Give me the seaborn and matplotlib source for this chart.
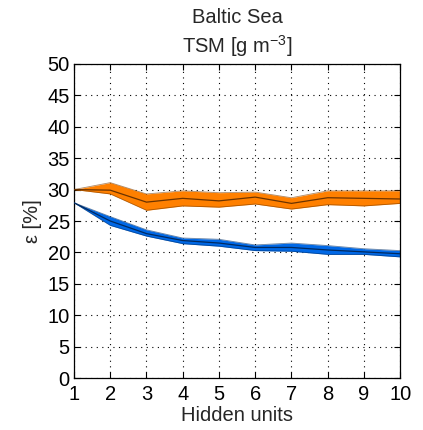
import numpy as np
import pandas as pd
import seaborn as sns
import matplotlib
matplotlib.use("Agg")
import matplotlib.pyplot as plt

# Error (%) against number of hidden units: mean and band limits
hidden_units = [1, 2, 3, 4, 5, 6, 7, 8, 9, 10]

orange_mean = [30.0, 29.9, 28.0, 28.6, 28.2, 28.8, 27.8, 28.7, 28.6, 28.5]
orange_low = [30.0, 29.3, 26.7, 27.4, 27.2, 27.7, 26.9, 27.6, 27.4, 27.8]
orange_high = [30.0, 31.1, 29.3, 29.8, 29.5, 29.6, 28.7, 29.8, 29.8, 29.8]

blue_mean = [27.9, 25.0, 23.0, 21.9, 21.5, 20.8, 20.8, 20.4, 20.1, 19.8]
blue_low = [27.9, 24.3, 22.6, 21.4, 21.0, 20.3, 20.2, 19.7, 19.7, 19.3]
blue_high = [27.9, 25.7, 23.6, 22.3, 22.1, 21.2, 21.5, 21.1, 20.6, 20.3]

y_ticks = [0, 5, 10, 15, 20, 25, 30, 35, 40, 45, 50]

sns.set_style("white")
plt.rcParams["font.family"] = ["Liberation Sans", "DejaVu Sans"]
plt.rcParams["mathtext.fontset"] = "custom"
plt.rcParams["mathtext.rm"] = "Liberation Sans"
plt.rcParams["mathtext.it"] = "Liberation Sans"

df = pd.DataFrame({
    "units": hidden_units * 2,
    "err": orange_mean + blue_mean,
    "group": ["a"] * 10 + ["b"] * 10,
})

fig = plt.figure(figsize=(4.23, 4.30), dpi=100)
ax = fig.add_axes([0.175, 0.12, 0.771, 0.732])

series = [
    (orange_low, orange_high, "#FF8000", "#7a3c00"),
    (blue_low, blue_high, "#0068E6", "#00306a"),
]
for low, high, face, edge in series:
    ax.fill_between(hidden_units, low, high, color=face, zorder=2, lw=0)
    ax.plot(hidden_units, low, color=edge, lw=0.6, alpha=0.6, zorder=3)
    ax.plot(hidden_units, high, color=edge, lw=0.6, alpha=0.6, zorder=3)

sns.lineplot(data=df, x="units", y="err", hue="group",
             palette={"a": "#6b3300", "b": "#002a60"}, lw=0.9,
             legend=False, ax=ax, zorder=4)

fs = 14.5
ax.set_xlim(1, 10)
ax.set_ylim(0, 50)
ax.set_xticks(hidden_units)
ax.set_yticks(y_ticks)
ax.grid(True, color="black", linestyle=(0, (1, 4)), linewidth=0.8)
ax.set_axisbelow(True)
for s in ax.spines.values():
    s.set_color("black")
    s.set_linewidth(0.9)
    s.set_visible(True)
ax.tick_params(direction="in", length=4, width=0.8, labelsize=fs,
               top=True, right=True, bottom=True, left=True,
               colors="black")
ax.tick_params(axis="x", pad=5)
ax.tick_params(axis="y", pad=3)
ax.set_xlabel("Hidden units", fontsize=fs, labelpad=1)
ax.set_ylabel("ε [%]", fontsize=fs, labelpad=4)
ax.set_title("Baltic Sea\nTSM [g m$^{-3}$]", fontsize=fs, pad=8, linespacing=1.3)

fig.savefig("out.png", dpi=100)
